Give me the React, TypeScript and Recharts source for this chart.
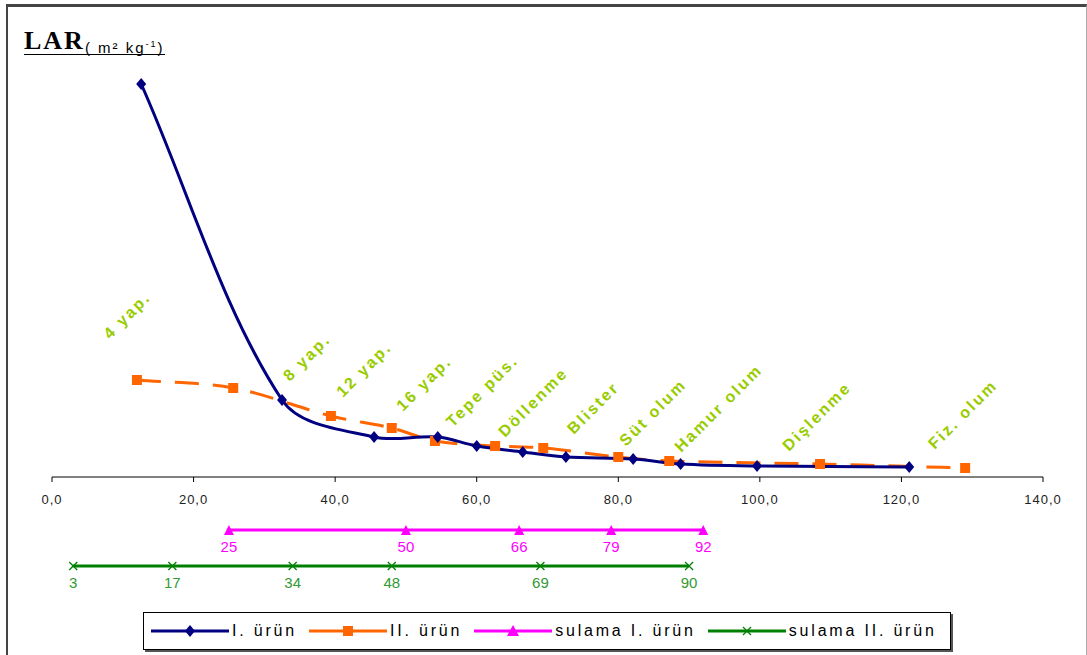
import React from 'react';
import { ComposedChart, Line, Scatter, XAxis, YAxis, LabelList } from 'recharts';

// I. ürün (LAR over days)
const urun1Days = [12.6, 32.5, 45.5, 54.5, 60.0, 66.5, 72.6, 82.1, 88.8, 99.6, 121.1];
const urun1Lar = [19.65, 3.85, 2.0, 2.0, 1.55, 1.25, 1.0, 0.9, 0.65, 0.55, 0.5];

// II. ürün
const urun2Days = [12.0, 25.6, 39.4, 48.0, 54.1, 62.6, 69.4, 80.0, 87.2, 108.5, 129.0];
const urun2Lar = [4.85, 4.45, 3.05, 2.45, 1.8, 1.55, 1.45, 1.0, 0.8, 0.65, 0.45];

// growth stage notes (anchored at day / LAR)
const stageNames = ['4 yap.', '8 yap.', '12 yap.', '16 yap.', 'Tepe püs.', 'Döllenme', 'Blister', 'Süt olum', 'Hamur olum', 'Dişlenme', 'Fiz. olum'];
const stageDays = [8.2, 33.6, 41.1, 49.6, 56.6, 64.0, 73.7, 81.1, 88.9, 104.1, 124.7];
const stageLar = [6.85, 4.75, 3.95, 3.25, 2.45, 1.95, 2.1, 1.5, 1.2, 1.25, 1.35];

// irrigation days
const sulama1Days = [25, 50, 66, 79, 92];
const sulama2Days = [3, 17, 34, 48, 69, 90];

const xTicks = [0, 20, 40, 60, 80, 100, 120, 140];

const NAVY = '#000080';
const ORANGE = '#FF6600';
const MAGENTA = '#FF00FF';
const GREEN = '#008000';
const STAGE = '#99CC00';
const FONT = '"Liberation Sans", Arial, sans-serif';

const urun1 = urun1Days.map((x, i) => ({ x, y: urun1Lar[i] }));
const urun2 = urun2Days.map((x, i) => ({ x, y: urun2Lar[i] }));
const stages = stageNames.map((name, i) => ({ x: stageDays[i], y: stageLar[i], name }));
const sulama1 = sulama1Days.map((x) => ({ x, level: 2 }));
const sulama2 = sulama2Days.map((x) => ({ x, level: 1 }));

// Excel-like smoothed line: cubic beziers, tangents weighted by segment length
function excelSmooth(context: any) {
  let pts: number[][] = [];
  const dist = (a: number[], b: number[]) => Math.hypot(b[0] - a[0], b[1] - a[1]);
  return {
    areaStart() {},
    areaEnd() {},
    lineStart() {
      pts = [];
    },
    point(x: number, y: number) {
      pts.push([+x, +y]);
    },
    lineEnd() {
      const n = pts.length;
      if (!n) return;
      context.moveTo(pts[0][0], pts[0][1]);
      for (let i = 0; i < n - 1; i++) {
        const p0 = pts[Math.max(0, i - 1)];
        const p1 = pts[i];
        const p2 = pts[i + 1];
        const p3 = pts[Math.min(n - 1, i + 2)];
        const l01 = dist(p0, p1);
        const l12 = dist(p1, p2);
        const l23 = dist(p2, p3);
        const f1 = l01 + l12 > 0 ? l12 / (l01 + l12) / 3 : 0;
        const f2 = l12 + l23 > 0 ? l12 / (l12 + l23) / 3 : 0;
        context.bezierCurveTo(
          p1[0] + (p2[0] - p0[0]) * f1, p1[1] + (p2[1] - p0[1]) * f1,
          p2[0] - (p3[0] - p1[0]) * f2, p2[1] - (p3[1] - p1[1]) * f2,
          p2[0], p2[1],
        );
      }
    },
  };
}

const Diamond = (p: any) => {
  const { cx, cy } = p;
  if (cx == null || cy == null) return null;
  return <polygon key={`d-${cx}`} points={`${cx},${cy - 6} ${cx + 5},${cy} ${cx},${cy + 6} ${cx - 5},${cy}`} fill={NAVY} />;
};

const Square = (p: any) => {
  const { cx, cy } = p;
  if (cx == null || cy == null) return null;
  return <rect key={`s-${cx}`} x={cx - 5} y={cy - 5} width={10} height={10} fill={ORANGE} />;
};

const Triangle = (p: any) => {
  const { cx, cy } = p;
  if (cx == null || cy == null) return null;
  return <polygon key={`t-${cx}`} points={`${cx},${cy - 5} ${cx + 5},${cy + 5} ${cx - 5},${cy + 5}`} fill={MAGENTA} />;
};

const Cross = (p: any) => {
  const { cx, cy } = p;
  if (cx == null || cy == null) return null;
  return (
    <g key={`x-${cx}`} stroke={GREEN} strokeWidth={1.3}>
      <line x1={cx - 4} y1={cy - 4} x2={cx + 4} y2={cy + 4} />
      <line x1={cx - 4} y1={cy + 4} x2={cx + 4} y2={cy - 4} />
    </g>
  );
};

const StageLabel = (p: any) => {
  const { cx, cy, payload } = p;
  return (
    <text
      x={cx}
      y={cy}
      transform={`rotate(-45 ${cx} ${cy})`}
      fill={STAGE}
      fontFamily={FONT}
      fontWeight="bold"
      fontSize={16}
      letterSpacing={2.3}
    >
      {payload.name}
    </text>
  );
};

const legendItems = [
  { label: 'I. ürün', color: NAVY, marker: 'diamond' },
  { label: 'II. ürün', color: ORANGE, marker: 'square' },
  { label: 'sulama I. ürün', color: MAGENTA, marker: 'triangle' },
  { label: 'sulama II. ürün', color: GREEN, marker: 'cross' },
];

const LegendMarker = ({ color, marker }: { color: string; marker: string }) => (
  <svg width={78} height={14} style={{ display: 'block' }}>
    <line x1={0} y1={7} x2={78} y2={7} stroke={color} strokeWidth={3} />
    {marker === 'diamond' && <polygon points="39,1 44,7 39,13 34,7" fill={color} />}
    {marker === 'square' && <rect x={34} y={2} width={10} height={10} fill={color} />}
    {marker === 'triangle' && <polygon points="39,1 45,12 33,12" fill={color} />}
    {marker === 'cross' && (
      <g stroke={color} strokeWidth={1.3}>
        <line x1={35} y1={3} x2={43} y2={11} />
        <line x1={35} y1={11} x2={43} y2={3} />
      </g>
    )}
  </svg>
);

export default function App() {
  return (
    <div style={{ position: 'absolute', left: 0, top: 0, width: 1087, height: 655, overflow: 'hidden', background: '#fff' }}>
      <div
        style={{
          position: 'absolute', left: 6, top: 4, width: 1078, height: 720,
          borderTop: '3px solid #444', borderLeft: '2px solid #444', borderRight: '1px solid #aaa',
        }}
      />

      <div
        style={{
          position: 'absolute', left: 24, top: 27, height: 27, lineHeight: '27px',
          borderBottom: '1.5px solid #000', color: '#000', whiteSpace: 'nowrap',
        }}
      >
        <span style={{ fontFamily: '"Liberation Serif", "Times New Roman", serif', fontWeight: 'bold', fontSize: 26, letterSpacing: 2 }}>LAR</span>
        <span style={{ position: 'relative', top: 4, fontFamily: FONT, fontSize: 15, letterSpacing: 2 }}>
          ( m² kg<sup style={{ fontSize: 9 }}>-1</sup>)
        </span>
      </div>

      <div style={{ position: 'absolute', left: 0, top: 0 }}>
        <ComposedChart width={1087} height={520} margin={{ top: 77, right: 44, bottom: 13, left: 52 }}>
          <XAxis
            type="number"
            dataKey="x"
            domain={[0, 140]}
            ticks={xTicks}
            tickFormatter={(v: number) => v.toFixed(1).replace('.', ',')}
            height={30}
            tickSize={5}
            tickMargin={13}
            stroke="#000"
            tick={{ fill: '#222', fontSize: 13, fontFamily: FONT, letterSpacing: 1 }}
          />
          <YAxis type="number" domain={[0, 20]} hide />
          <Line
            data={urun2}
            dataKey="y"
            type={excelSmooth as any}
            stroke={ORANGE}
            strokeWidth={3}
            strokeDasharray="24 14"
            dot={<Square />}
            activeDot={false}
            isAnimationActive={false}
          />
          <Line
            data={urun1}
            dataKey="y"
            type={excelSmooth as any}
            stroke={NAVY}
            strokeWidth={3}
            dot={<Diamond />}
            activeDot={false}
            isAnimationActive={false}
          />
          <Scatter data={stages} dataKey="y" shape={<StageLabel />} isAnimationActive={false} />
        </ComposedChart>
      </div>

      <div style={{ position: 'absolute', left: 0, top: 494 }}>
        <ComposedChart width={1087} height={108} margin={{ top: 0, right: 44, bottom: 0, left: 52 }}>
          <XAxis type="number" dataKey="x" domain={[0, 140]} hide />
          <YAxis type="number" domain={[0, 3]} hide />
          <Line data={sulama1} dataKey="level" stroke={MAGENTA} strokeWidth={3} dot={<Triangle />} activeDot={false} isAnimationActive={false}>
            <LabelList dataKey="x" position="bottom" offset={11} fill={MAGENTA} fontSize={15} fontFamily={FONT} />
          </Line>
          <Line data={sulama2} dataKey="level" stroke={GREEN} strokeWidth={3} dot={<Cross />} activeDot={false} isAnimationActive={false}>
            <LabelList dataKey="x" position="bottom" offset={11} fill="#339933" fontSize={15} fontFamily={FONT} />
          </Line>
        </ComposedChart>
      </div>

      <div
        style={{
          position: 'absolute', left: 143, top: 612, width: 808, height: 38,
          border: '1px solid #000', boxShadow: '2px 2px 0 #555', background: '#fff',
          display: 'flex', alignItems: 'center', paddingLeft: 7, boxSizing: 'border-box',
          fontFamily: FONT, fontSize: 16, color: '#000', letterSpacing: 2.8,
        }}
      >
        {legendItems.map((it) => (
          <div key={it.label} style={{ display: 'flex', alignItems: 'center', marginRight: 12 }}>
            <LegendMarker color={it.color} marker={it.marker} />
            <span style={{ marginLeft: 3, whiteSpace: 'nowrap' }}>{it.label}</span>
          </div>
        ))}
      </div>
    </div>
  );
}
